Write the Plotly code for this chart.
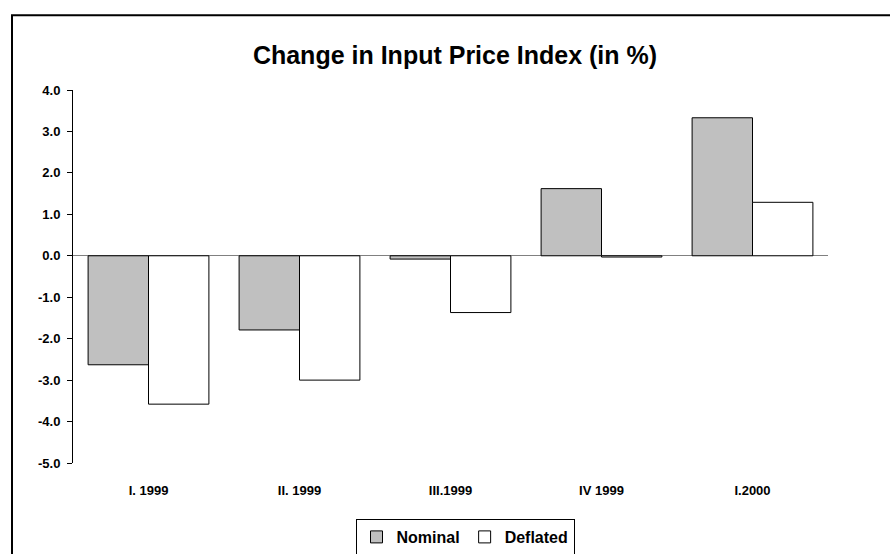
import plotly.graph_objects as go

categories = ["I. 1999", "II. 1999", "III.1999", "IV 1999", "I.2000"]
nominal = [-2.63, -1.79, -0.08, 1.62, 3.33]
deflated = [-3.58, -3.00, -1.37, -0.03, 1.29]
y_tick_values = [-5, -4, -3, -2, -1, 0, 1, 2, 3, 4]
y_tick_labels = ["-5.0", "-4.0", "-3.0", "-2.0", "-1.0", "0.0", "1.0", "2.0", "3.0", "4.0"]

FONT = "Liberation Sans, Arial, Helvetica, sans-serif"

fig = go.Figure()
fig.add_trace(go.Bar(
    name="Nominal", x=categories, y=nominal,
    marker=dict(color="#C0C0C0", line=dict(color="#000000", width=1)),
))
fig.add_trace(go.Bar(
    name="Deflated", x=categories, y=deflated,
    marker=dict(color="#FFFFFF", line=dict(color="#000000", width=1)),
))

fig.update_layout(
    width=890, height=554,
    margin=dict(l=73, r=62, t=90, b=91, autoexpand=False),
    paper_bgcolor="white", plot_bgcolor="white",
    barmode="group", bargap=0.2, bargroupgap=0,
    font=dict(family=FONT, color="#000000"),
    title=dict(
        text="<b>Change in Input Price Index (in %)</b>",
        x=455 / 890, xanchor="center",
        y=1 - 55 / 554, yanchor="middle",
        font=dict(size=25, family=FONT, color="#000000"),
    ),
    xaxis=dict(
        showline=False, showgrid=False, zeroline=False, automargin=False,
        ticks="", ticklabelstandoff=18,
        tickfont=dict(size=13, family=FONT, color="#000000", weight="bold"),
    ),
    yaxis=dict(
        range=[-5, 4], tickvals=y_tick_values, ticktext=y_tick_labels,
        showline=True, linecolor="#000000", linewidth=1, automargin=False,
        ticks="outside", ticklen=5, tickcolor="#000000", tickwidth=1,
        ticklabelstandoff=4,
        showgrid=False,
        zeroline=True, zerolinecolor="#808080", zerolinewidth=1,
        tickfont=dict(size=13, family=FONT, color="#000000", weight="bold"),
    ),
    showlegend=True,
    legend=dict(
        orientation="h",
        x=(465 - 73) / 755, xanchor="center",
        yref="container", y=1 - 519 / 554, yanchor="top",
        bgcolor="white", bordercolor="#000000", borderwidth=1,
        font=dict(size=16, family=FONT, color="#000000", weight="bold"),
        itemwidth=30,
    ),
    shapes=[dict(
        type="rect", xref="paper", yref="paper",
        x0=(12 - 73) / 755, x1=1.2,
        y0=-0.4, y1=(462.7 - 15) / 373,
        line=dict(color="#000000", width=2),
        fillcolor="rgba(0,0,0,0)", layer="below",
    )],
)

fig.write_html(
    "out.html",
    config={"displayModeBar": False},
    post_script="document.body.style.margin='0px';",
)
